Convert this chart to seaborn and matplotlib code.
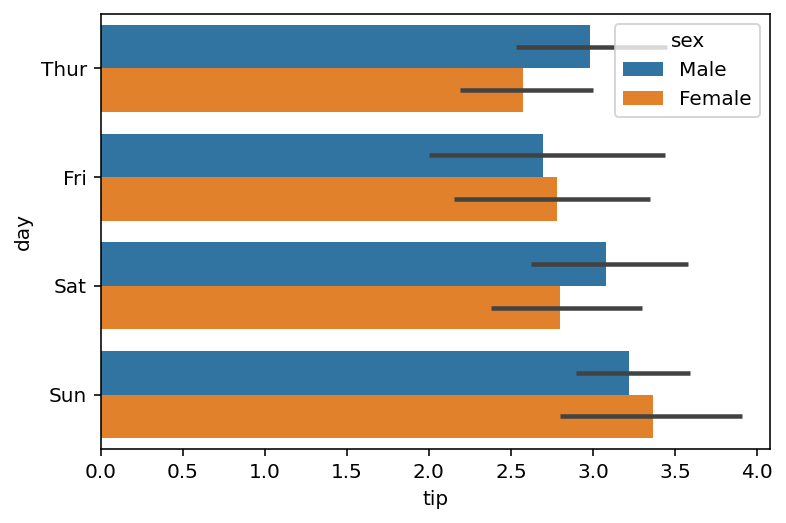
import matplotlib
matplotlib.use("Agg")
import matplotlib.pyplot as plt
import seaborn as sns
import pandas as pd

days = ["Thur", "Fri", "Sat", "Sun"]
sexes = ["Male", "Female"]
male_tip = [2.980, 2.693, 3.083, 3.220]
female_tip = [2.575, 2.781, 2.801, 3.367]
male_ci_low = [2.53, 2.00, 2.62, 2.90]
male_ci_high = [3.45, 3.44, 3.58, 3.59]
female_ci_low = [2.19, 2.15, 2.38, 2.80]
female_ci_high = [3.00, 3.35, 3.30, 3.91]

rows = []
for i, d in enumerate(days):
    rows.append({"day": d, "sex": "Male", "tip": male_tip[i], "lo": male_ci_low[i], "hi": male_ci_high[i]})
    rows.append({"day": d, "sex": "Female", "tip": female_tip[i], "lo": female_ci_low[i], "hi": female_ci_high[i]})
df = pd.DataFrame(rows)

fig, ax = plt.subplots(figsize=(786/144, 523/144), dpi=144)
fig.subplots_adjust(left=0.1285, right=0.9796, top=0.973, bottom=0.1415)

sns.barplot(data=df, x="tip", y="day", hue="sex", order=days, hue_order=sexes,
            errorbar=None, ax=ax, orient="h")

# error bars located at the bar centres produced by seaborn
bars = ax.patches[:8]
for sex_idx, sex in enumerate(sexes):
    for day_idx, d in enumerate(days):
        p = bars[sex_idx * 4 + day_idx]
        yc = p.get_y() + p.get_height() / 2
        r = df[(df.day == d) & (df.sex == sex)].iloc[0]
        ax.plot([r.lo, r.hi], [yc, yc], color=".26", linewidth=2.25, solid_capstyle="butt", zorder=3)

ax.set_xlim(0, 4.08)
ax.set_ylim(3.5, -0.5)
ax.set_xlabel("tip")
ax.set_ylabel("day")
ax.legend(title="sex", loc="upper right")
fig.savefig("out.png", dpi=144)
